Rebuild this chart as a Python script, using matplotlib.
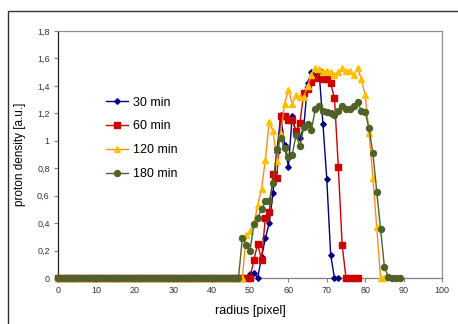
import matplotlib
matplotlib.use("Agg")
import matplotlib.pyplot as plt
from matplotlib.patches import Rectangle
from matplotlib.ticker import FuncFormatter

plt.rcParams['font.family'] = ['Liberation Sans', 'DejaVu Sans']

# radius positions [pixel]
radius = list(range(0, 90))

# proton density [a.u.] per series
min30 = [0, 0, 0, 0, 0, 0, 0, 0, 0, 0,
         0, 0, 0, 0, 0, 0, 0, 0, 0, 0,
         0, 0, 0, 0, 0, 0, 0, 0, 0, 0,
         0, 0, 0, 0, 0, 0, 0, 0, 0, 0,
         0, 0, 0, 0, 0, 0, 0, 0, 0, 0,
         0.03, 0.04, 0.0, 0.15, 0.29, 0.40, 0.62, 0.92, 1.19, 0.97,
         0.81, 1.18, 1.05, 1.02, 1.10, 1.42, 1.50, 1.47, 1.50, 1.12,
         0.72, 0.17, 0, 0]
min60 = [0, 0, 0, 0, 0, 0, 0, 0, 0, 0,
         0, 0, 0, 0, 0, 0, 0, 0, 0, 0,
         0, 0, 0, 0, 0, 0, 0, 0, 0, 0,
         0, 0, 0, 0, 0, 0, 0, 0, 0, 0,
         0, 0, 0, 0, 0, 0, 0, 0, 0, 0,
         0, 0.13, 0.25, 0.13, 0.44, 0.48, 0.76, 0.73, 1.18, 1.18,
         1.15, 1.15, 1.07, 1.13, 1.35, 1.38, 1.43, 1.46, 1.50, 1.45,
         1.45, 1.42, 1.31, 0.81, 0.24, 0, 0, 0, 0]
min120 = [0, 0, 0, 0, 0, 0, 0, 0, 0, 0,
          0, 0, 0, 0, 0, 0, 0, 0, 0, 0,
          0, 0, 0, 0, 0, 0, 0, 0, 0, 0,
          0, 0, 0, 0, 0, 0, 0, 0, 0, 0,
          0, 0, 0, 0, 0, 0, 0, 0, 0, 0.31,
          0.34, 0.39, 0.53, 0.65, 0.86, 1.14, 1.07, 0.85, 1.05, 1.27,
          1.37, 1.27, 1.33, 1.32, 1.32, 1.40, 1.48, 1.53, 1.52, 1.50,
          1.51, 1.50, 1.48, 1.50, 1.53, 1.51, 1.51, 1.48, 1.53, 1.45,
          1.33, 1.06, 0.73, 0.37, 0, 0]
min180 = [0, 0, 0, 0, 0, 0, 0, 0, 0, 0,
          0, 0, 0, 0, 0, 0, 0, 0, 0, 0,
          0, 0, 0, 0, 0, 0, 0, 0, 0, 0,
          0, 0, 0, 0, 0, 0, 0, 0, 0, 0,
          0, 0, 0, 0, 0, 0, 0, 0, 0.29, 0.24,
          0.20, 0.39, 0.44, 0.50, 0.56, 0.56, 0.69, 0.94, 1.02, 0.95,
          0.88, 0.90, 1.04, 0.96, 1.10, 1.12, 1.08, 1.23, 1.25, 1.22,
          1.21, 1.20, 1.19, 1.22, 1.25, 1.23, 1.23, 1.25, 1.28, 1.22,
          1.21, 1.09, 0.91, 0.63, 0.36, 0.08, 0.01, 0, 0, 0]

labels = ["30 min", "60 min", "120 min", "180 min"]

fig = plt.figure(figsize=(4.58, 3.24), dpi=100)
ax = fig.add_axes([58 / 458, 1 - 278 / 324, 384 / 458, 247 / 324])

# outer chart frame
fig.patches.append(Rectangle((8 / 458, -0.1), 1.2, 1 - 11 / 324 + 0.1,
                             transform=fig.transFigure, fill=False,
                             edgecolor="#303030", linewidth=1.0))

ax.plot(radius[:len(min30)], min30, color="#000080", marker="D", markersize=2.8,
        linewidth=1.0, label=labels[0], clip_on=False, zorder=3)
ax.plot(radius[:len(min60)], min60, color="#CC0000", marker="s", markersize=4.5,
        linewidth=1.0, label=labels[1], clip_on=False, zorder=3)
ax.plot(radius[:len(min120)], min120, color="#FF8C1A", marker="^", markersize=4.5,
        markerfacecolor="#FFC000", markeredgecolor="#FFC000",
        linewidth=1.0, label=labels[2], clip_on=False, zorder=3)
ax.plot(radius[:len(min180)], min180, color="#4F6228", marker="o", markersize=4.3,
        markerfacecolor="#4F6228", markeredgecolor="#4F6228",
        linewidth=1.0, label=labels[3], clip_on=False, zorder=3)

ax.set_xlim(0, 100)
ax.set_ylim(0, 1.8)
ax.set_xticks(range(0, 101, 10))
ax.set_yticks([0, 0.2, 0.4, 0.6, 0.8, 1.0, 1.2, 1.4, 1.6, 1.8])
ax.yaxis.set_major_formatter(FuncFormatter(lambda v, p: ("%g" % round(v, 1)).replace(".", ",")))

ax.tick_params(direction="out", length=3, width=0.8, labelsize=6.5,
               colors="#808080", labelcolor="#333333", pad=3)
for s in ["top", "right"]:
    ax.spines[s].set_color("#909090")
    ax.spines[s].set_linewidth(0.9)
for s in ["left", "bottom"]:
    ax.spines[s].set_color("#808080")
    ax.spines[s].set_linewidth(0.9)
ax.spines["left"].set_color("#202020")

ax.set_xlabel("radius [pixel]", fontsize=9, labelpad=7)
ax.set_ylabel("proton density [a.u.]", fontsize=8.5, labelpad=8)

ax.legend(loc="upper left", bbox_to_anchor=(0.11, 0.76), frameon=False,
          fontsize=9, handlelength=1.7, handletextpad=0.45, labelspacing=0.95,
          borderpad=0)

fig.savefig("out.png", dpi=100)
